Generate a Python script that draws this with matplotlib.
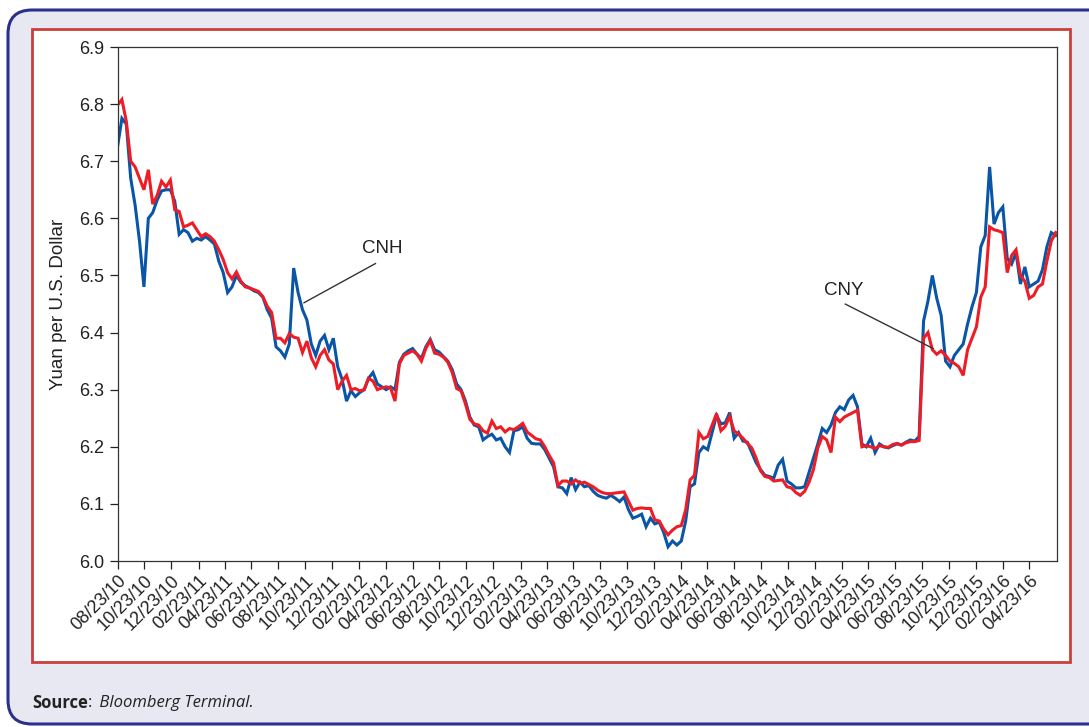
import numpy as np
import pandas as pd
import matplotlib
matplotlib.use('Agg')
import matplotlib.pyplot as plt
from matplotlib.patches import FancyBboxPatch, Rectangle
from matplotlib.transforms import IdentityTransform

plt.rcParams['font.family'] = ['Liberation Sans', 'DejaVu Sans']

# 10-day samples starting 08/23/10
start_date = '2010-08-23'

cny = [
    6.798, 6.808, 6.770, 6.700, 6.690, 6.670, 6.650, 6.685, 6.625, 6.640,
    6.665, 6.655, 6.667, 6.615, 6.612, 6.585, 6.588, 6.592, 6.580, 6.568,
    6.573, 6.568, 6.560, 6.545, 6.528, 6.505, 6.494, 6.506, 6.490, 6.480,
    6.478, 6.475, 6.472, 6.463, 6.446, 6.435, 6.390, 6.390, 6.382, 6.398,
    6.392, 6.390, 6.365, 6.385, 6.356, 6.340, 6.360, 6.370, 6.352, 6.345,
    6.300, 6.315, 6.325, 6.300, 6.302, 6.298, 6.300, 6.320, 6.315, 6.300,
    6.303, 6.305, 6.303, 6.280, 6.345, 6.360, 6.364, 6.368, 6.362, 6.350,
    6.372, 6.386, 6.364, 6.362, 6.357, 6.348, 6.330, 6.302, 6.298, 6.275,
    6.248, 6.240, 6.238, 6.228, 6.224, 6.245, 6.232, 6.235, 6.226, 6.232,
    6.230, 6.235, 6.241, 6.226, 6.220, 6.214, 6.212, 6.200, 6.185, 6.172,
    6.132, 6.140, 6.140, 6.135, 6.142, 6.136, 6.138, 6.134, 6.130, 6.124,
    6.120, 6.118, 6.118, 6.119, 6.120, 6.121, 6.105, 6.089, 6.092, 6.093,
    6.092, 6.092, 6.072, 6.070, 6.056, 6.046, 6.054, 6.060, 6.062, 6.090,
    6.142, 6.150, 6.225, 6.214, 6.218, 6.238, 6.258, 6.228, 6.236, 6.253,
    6.228, 6.222, 6.215, 6.206, 6.198, 6.180, 6.158, 6.148, 6.146, 6.140,
    6.141, 6.142, 6.130, 6.128, 6.120, 6.115, 6.122, 6.138, 6.160, 6.198,
    6.218, 6.212, 6.190, 6.252, 6.244, 6.252, 6.256, 6.260, 6.264, 6.200,
    6.202, 6.200, 6.197, 6.202, 6.200, 6.199, 6.204, 6.206, 6.203, 6.207,
    6.209, 6.209, 6.211, 6.390, 6.400, 6.370, 6.362, 6.368, 6.360, 6.350,
    6.346, 6.340, 6.325, 6.370, 6.390, 6.410, 6.462, 6.480, 6.585, 6.580,
    6.578, 6.575, 6.505, 6.535, 6.545, 6.500, 6.490, 6.460, 6.465, 6.480,
    6.485, 6.525, 6.560, 6.575,
]

cnh = [
    6.725, 6.775, 6.765, 6.670, 6.623, 6.560, 6.480, 6.600, 6.610, 6.632,
    6.648, 6.650, 6.650, 6.630, 6.572, 6.580, 6.575, 6.560, 6.565, 6.562,
    6.568, 6.562, 6.555, 6.525, 6.505, 6.470, 6.480, 6.500, 6.488, 6.482,
    6.478, 6.473, 6.470, 6.462, 6.440, 6.425, 6.375, 6.368, 6.357, 6.380,
    6.513, 6.470, 6.440, 6.422, 6.380, 6.360, 6.385, 6.395, 6.370, 6.390,
    6.340, 6.318, 6.280, 6.298, 6.288, 6.295, 6.300, 6.320, 6.330, 6.310,
    6.305, 6.300, 6.305, 6.300, 6.348, 6.362, 6.368, 6.372, 6.362, 6.355,
    6.375, 6.388, 6.370, 6.366, 6.358, 6.350, 6.335, 6.310, 6.300, 6.280,
    6.252, 6.238, 6.235, 6.212, 6.218, 6.222, 6.212, 6.215, 6.200, 6.190,
    6.228, 6.230, 6.235, 6.215, 6.206, 6.205, 6.205, 6.195, 6.180, 6.165,
    6.130, 6.128, 6.118, 6.146, 6.125, 6.138, 6.130, 6.132, 6.122, 6.115,
    6.112, 6.110, 6.115, 6.110, 6.104, 6.112, 6.090, 6.075, 6.078, 6.082,
    6.060, 6.075, 6.065, 6.068, 6.050, 6.025, 6.035, 6.028, 6.035, 6.070,
    6.130, 6.135, 6.190, 6.200, 6.195, 6.225, 6.255, 6.240, 6.242, 6.260,
    6.215, 6.225, 6.210, 6.208, 6.190, 6.172, 6.160, 6.150, 6.148, 6.145,
    6.168, 6.178, 6.140, 6.135, 6.128, 6.128, 6.130, 6.155, 6.180, 6.205,
    6.232, 6.225, 6.238, 6.260, 6.270, 6.265, 6.282, 6.290, 6.270, 6.205,
    6.200, 6.215, 6.190, 6.205, 6.200, 6.198, 6.202, 6.205, 6.203, 6.208,
    6.212, 6.210, 6.218, 6.420, 6.455, 6.500, 6.460, 6.430, 6.350, 6.340,
    6.360, 6.370, 6.380, 6.415, 6.445, 6.470, 6.550, 6.570, 6.690, 6.590,
    6.610, 6.620, 6.530, 6.520, 6.540, 6.485, 6.515, 6.480, 6.485, 6.490,
    6.510, 6.550, 6.575, 6.570,
]

tick_dates = pd.date_range('2010-08-01', '2016-04-01', freq='2MS') + pd.Timedelta(days=22)
y_ticks = [6.0, 6.1, 6.2, 6.3, 6.4, 6.5, 6.6, 6.7, 6.8, 6.9]

dates = pd.date_range(start_date, periods=len(cny), freq='10D')

W, H = 1089, 727
fig = plt.figure(figsize=(W / 100, H / 100), dpi=100)
fig.patch.set_facecolor('white')

# outer lavender panel with rounded navy border
outer = FancyBboxPatch((8, 3), 1110, 714, boxstyle='round,pad=0,rounding_size=24',
                       transform=IdentityTransform(), facecolor='#e8e8f2',
                       edgecolor='#2b318a', linewidth=2.2, zorder=-3)
fig.add_artist(outer)
# red inner frame
inner = Rectangle((32, 65), 1038, 633, transform=IdentityTransform(),
                  facecolor='white', edgecolor='#c9403b', linewidth=2.0, zorder=-2)
fig.add_artist(inner)

ax = fig.add_axes([117.5 / W, 1 - 561 / H, (1057 - 117.5) / W, (561 - 47) / H])
ax.set_facecolor('white')

ax.plot(dates, cnh, color='#0a56a6', lw=2.2, solid_joinstyle='miter')
ax.plot(dates, cny, color='#ee1c25', lw=2.2, solid_joinstyle='miter')

ax.set_xlim(pd.Timestamp('2010-08-23'), pd.Timestamp('2016-06-25'))
ax.set_ylim(6.0, 6.9)
ax.set_yticks(y_ticks)
ax.set_yticklabels(['%.1f' % v for v in y_ticks])
ax.set_xticks(tick_dates)
ax.set_xticklabels([d.strftime('%m/%d/%y') for d in tick_dates], rotation=45,
                   ha='right', va='top', rotation_mode='anchor')
ax.tick_params(axis='both', direction='out', length=6, width=0.9, colors='#222222',
               labelsize=13)
ax.tick_params(axis='x', pad=2)
for s in ax.spines.values():
    s.set_linewidth(0.9)
    s.set_color('#333333')

ax.set_ylabel('Yuan per U.S. Dollar', fontsize=13.5, color='#222222', labelpad=9)

# callouts
ax.annotate('', xy=(pd.Timestamp('2011-10-20'), 6.452), xytext=(pd.Timestamp('2012-03-31'), 6.521),
            arrowprops=dict(arrowstyle='-', color='#333333', lw=1.0, shrinkA=0, shrinkB=0))
ax.text(pd.Timestamp('2012-04-15'), 6.548, 'CNH', fontsize=13.5, color='#222222',
        ha='center', va='center')
ax.annotate('', xy=(pd.Timestamp('2015-09-18'), 6.372), xytext=(pd.Timestamp('2015-03-02'), 6.45),
            arrowprops=dict(arrowstyle='-', color='#333333', lw=1.0, shrinkA=0, shrinkB=0))
ax.text(pd.Timestamp('2015-02-26'), 6.473, 'CNY', fontsize=13.5, color='#222222',
        ha='center', va='center')

# source line, pieces placed one after another
renderer = fig.canvas.get_renderer()
x = 32
for txt, kw in [('Source', dict(fontweight='bold')), (':', {}),
                ('\u00a0Bloomberg Terminal.', dict(style='italic'))]:
    t = fig.text(x / W, 1 - 703 / H, txt, fontsize=12, family='Open Sans', color='#222222',
                 va='center', **kw)
    x = t.get_window_extent(renderer).x1 + (3 if txt == ':' else 0)

fig.savefig('out.png', dpi=100)
